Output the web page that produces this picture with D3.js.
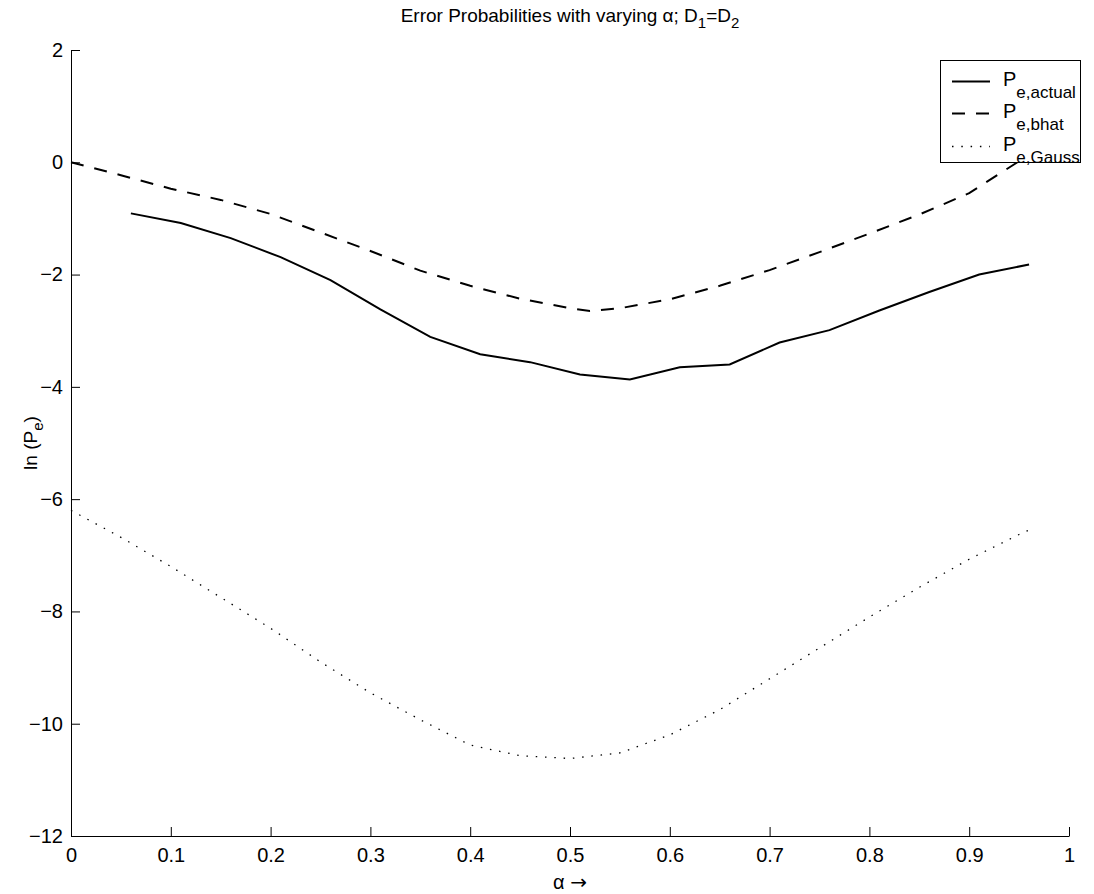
<!DOCTYPE html>
<html>
<head>
<meta charset="utf-8">
<script src="https://cdn.jsdelivr.net/npm/d3@7/dist/d3.min.js"></script>
<style>
  html, body { margin: 0; padding: 0; background: #fff; }
  svg { display: block; font-family: "Liberation Sans", Arial, Helvetica, sans-serif; }
</style>
</head>
<body>
<svg id="chart" width="1094" height="894"></svg>
<script>
// ---- data ----
const alphaActual = [0.06,0.11,0.16,0.21,0.26,0.31,0.36,0.41,0.46,0.51,0.56,0.61,0.66,0.71,0.76,0.81,0.86,0.91,0.96];
const peActual    = [-0.91,-1.08,-1.35,-1.69,-2.10,-2.62,-3.11,-3.42,-3.56,-3.78,-3.87,-3.65,-3.60,-3.21,-2.99,-2.64,-2.31,-2.00,-1.82];

const alphaBhat = [0,0.05,0.10,0.15,0.20,0.25,0.30,0.35,0.40,0.45,0.50,0.52,0.55,0.60,0.65,0.70,0.75,0.80,0.85,0.90,0.95];
const peBhat    = [0,-0.23,-0.47,-0.67,-0.92,-1.25,-1.58,-1.93,-2.20,-2.43,-2.60,-2.65,-2.60,-2.44,-2.20,-1.92,-1.60,-1.27,-0.93,-0.55,0.02];

const alphaGauss = [0,0.05,0.10,0.15,0.20,0.25,0.30,0.35,0.40,0.45,0.50,0.55,0.60,0.65,0.70,0.75,0.80,0.85,0.90,0.95,0.96];
const peGauss    = [-6.2,-6.68,-7.2,-7.75,-8.3,-8.9,-9.45,-9.93,-10.38,-10.57,-10.62,-10.52,-10.2,-9.75,-9.2,-8.65,-8.1,-7.57,-7.07,-6.63,-6.55];

const xTicks = [0,0.1,0.2,0.3,0.4,0.5,0.6,0.7,0.8,0.9,1];
const yTicks = [-12,-10,-8,-6,-4,-2,0,2];

const legendLabels = [
  {main: "P", sub: "e,actual"},
  {main: "P", sub: "e,bhat"},
  {main: "P", sub: "e,Gauss"}
];

// ---- layout ----
const svg = d3.select("#chart");
const mLeft = 71, mRight = 1069, mTop = 50, mBottom = 836;

const x = d3.scaleLinear().domain([0, 1]).range([mLeft, mRight]);
const y = d3.scaleLinear().domain([-12, 2]).range([mBottom, mTop]);

// axes
const xAxis = d3.axisBottom(x).tickValues(xTicks).tickFormat(d => String(d))
  .tickSizeInner(-9).tickSizeOuter(0).tickPadding(12);
const yAxis = d3.axisLeft(y).tickValues(yTicks).tickFormat(d => d < 0 ? "\u2212" + Math.abs(d) : String(d))
  .tickSizeInner(-9).tickSizeOuter(0).tickPadding(8);

const gx = svg.append("g").attr("transform", `translate(0,${mBottom})`).call(xAxis);
const gy = svg.append("g").attr("transform", `translate(${mLeft},0)`).call(yAxis);
[gx, gy].forEach(g => {
  g.selectAll("text").attr("font-size", 20).attr("fill", "#000")
    .attr("font-family", "'Liberation Sans', Arial, sans-serif");
  g.select(".domain").attr("stroke", "#000").attr("stroke-width", 1);
  g.selectAll(".tick line").attr("stroke", "#000").attr("stroke-width", 1);
});

// lines
const line = d3.line().x(d => x(d[0])).y(d => y(d[1]));
const series = [
  {a: alphaActual, v: peActual, dash: null, w: 2},
  {a: alphaBhat, v: peBhat, dash: "13,11", w: 2},
  {a: alphaGauss, v: peGauss, dash: "1.5,7.8", w: 1.3}
];
series.forEach(s => {
  svg.append("path")
    .datum(s.a.map((a, i) => [a, s.v[i]]))
    .attr("d", line)
    .attr("fill", "none")
    .attr("stroke", "#000")
    .attr("stroke-width", s.w)
    .attr("stroke-dasharray", s.dash);
});

// title
const title = svg.append("text").attr("x", (mLeft + mRight) / 2).attr("y", 22)
  .attr("text-anchor", "middle").attr("font-size", 19).attr("fill", "#000");
title.append("tspan").text("Error Probabilities with varying \u03b1; D");
title.append("tspan").attr("font-size", 15).attr("dy", 6).text("1");
title.append("tspan").attr("dy", -6).text("=D");
title.append("tspan").attr("font-size", 15).attr("dy", 6).text("2");

// x label
const xl = svg.append("text").attr("x", (mLeft + mRight) / 2).attr("y", 889)
  .attr("text-anchor", "middle").attr("font-size", 20).attr("fill", "#000");
xl.append("tspan").text("\u03b1 ");
xl.append("tspan").attr("font-family", "'DejaVu Sans', sans-serif").attr("font-size", 20).text("\u2192");

// y label
const yl = svg.append("text")
  .attr("transform", `translate(37,${(mTop + mBottom) / 2}) rotate(-90)`)
  .attr("text-anchor", "middle").attr("font-size", 19).attr("fill", "#000");
yl.append("tspan").text("ln (P");
yl.append("tspan").attr("font-size", 15).attr("dy", 6).text("e");
yl.append("tspan").attr("dy", -6).text(")");

// legend
const lg = svg.append("g");
lg.append("rect").attr("x", 940.5).attr("y", 60.5).attr("width", 140).attr("height", 102)
  .attr("fill", "#fff").attr("stroke", "#000").attr("stroke-width", 1);
const legY = [81.5, 113.5, 146.5];
series.forEach((s, i) => {
  lg.append("line").attr("x1", 952).attr("x2", 990).attr("y1", legY[i]).attr("y2", legY[i])
    .attr("stroke", "#000").attr("stroke-width", s.w).attr("stroke-dasharray", s.dash);
  const t = lg.append("text").attr("x", 1003).attr("y", legY[i] + 4).attr("font-size", 20).attr("fill", "#000");
  t.append("tspan").text(legendLabels[i].main);
  t.append("tspan").attr("font-size", 17).attr("dy", 12).text(legendLabels[i].sub);
});
</script>
</body>
</html>
